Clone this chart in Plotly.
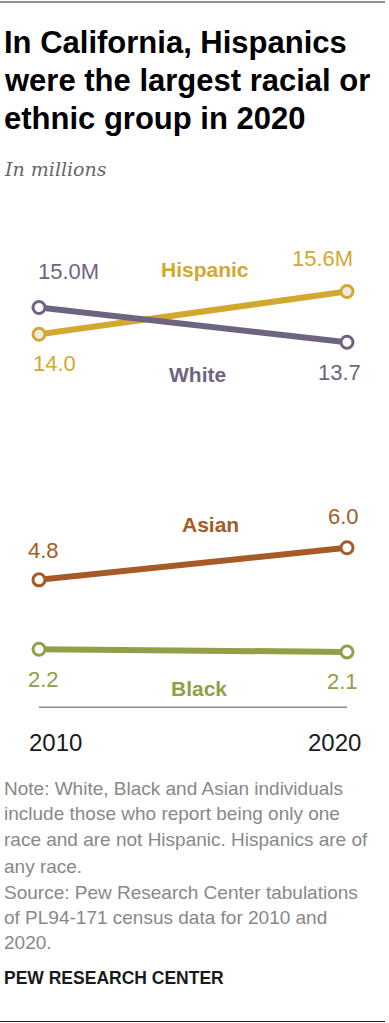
import plotly.graph_objects as go

# ---- data ----
years = [2010, 2020]
hispanic = [14.0, 15.6]
white = [15.0, 13.7]
asian = [4.8, 6.0]
black = [2.2, 2.1]

hispanic_labels = ["14.0", "15.6M"]
white_labels = ["15.0M", "13.7"]
asian_labels = ["4.8", "6.0"]
black_labels = ["2.2", "2.1"]
year_labels = ["2010", "2020"]

title_lines = ["In California, Hispanics", "were the largest racial or", "ethnic group in 2020"]
subtitle = "In millions"
note_lines = [
    "Note: White, Black and Asian individuals",
    "include those who report being only one",
    "race and are not Hispanic. Hispanics are of",
    "any race.",
    "Source: Pew Research Center tabulations",
    "of PL94-171 census data for 2010 and",
    "2020.",
]
credit = "PEW RESEARCH CENTER"

C_HISP = "#D3A82F"
C_WHITE = "#6F6480"
C_ASIAN = "#A65B27"
C_BLACK = "#949D47"

W, H = 389, 1023
ML, MR, MT, MB = 39, 42, 268, 315
PW = W - ML - MR
PH = H - MT - MB
YMAX = PH / 26.7


def px(x):
    return (x - ML) / PW


def py(y):
    return (H - MB - y) / PH


fig = go.Figure()

series = [
    ("Hispanic", hispanic, C_HISP, "#EEEBE3"),
    ("White", white, C_WHITE, "#FFFFFF"),
    ("Asian", asian, C_ASIAN, "#FFFFFF"),
    ("Black", black, C_BLACK, "#FFFFFF"),
]
for name, vals, col, fill in series:
    fig.add_trace(go.Scatter(
        x=years, y=vals, mode="lines+markers", name=name,
        line=dict(color=col, width=6),
        marker=dict(size=12, color=fill, line=dict(color=col, width=3)),
        cliponaxis=False, hoverinfo="skip",
    ))

ann = []
FONT = "Liberation Sans, Arial, sans-serif"

# value labels anchored to data points
def vlabel(xv, yv, text, col, dx, dy):
    ann.append(dict(x=xv, y=yv, xref="x", yref="y", text=text, showarrow=False,
                    xanchor="center", yanchor="middle", xshift=dx, yshift=dy,
                    font=dict(family=FONT, size=22, color=col)))

vlabel(years[0], white[0], white_labels[0], C_WHITE, 29, 36)
vlabel(years[1], white[1], white_labels[1], C_WHITE, -8, -30)
vlabel(years[0], hispanic[0], hispanic_labels[0], C_HISP, 15, -29)
vlabel(years[1], hispanic[1], hispanic_labels[1], C_HISP, -25, 33)
vlabel(years[0], asian[0], asian_labels[0], C_ASIAN, 4, 29)
vlabel(years[1], asian[1], asian_labels[1], C_ASIAN, -4, 31)
vlabel(years[0], black[0], black_labels[0], C_BLACK, 4, -30)
vlabel(years[1], black[1], black_labels[1], C_BLACK, -5, -30)

# series name labels
def nlabel(x, y, text, col):
    ann.append(dict(x=px(x), y=py(y), xref="paper", yref="paper", text="<b>%s</b>" % text,
                    showarrow=False, xanchor="center", yanchor="middle",
                    font=dict(family=FONT, size=21, color=col)))

nlabel(205, 269, "Hispanic", C_HISP)
nlabel(197, 374, "White", C_WHITE)
nlabel(210, 524, "Asian", C_ASIAN)
nlabel(199, 688, "Black", C_BLACK)

# year labels
ann.append(dict(x=years[0], y=0, xref="x", yref="y", text=year_labels[0], showarrow=False,
                xanchor="left", yanchor="middle", xshift=-12, yshift=-34,
                font=dict(family=FONT, size=24, color="#1a1a1a")))
ann.append(dict(x=years[1], y=0, xref="x", yref="y", text=year_labels[1], showarrow=False,
                xanchor="right", yanchor="middle", xshift=16, yshift=-34,
                font=dict(family=FONT, size=24, color="#1a1a1a")))

# title
for i, line in enumerate(title_lines):
    ann.append(dict(x=px(2), y=py(43 + i * 37.5), xref="paper", yref="paper",
                    text="<b>%s</b>" % line, showarrow=False, xanchor="left", yanchor="middle",
                    font=dict(family=FONT, size=31, color="#000000")))

ann.append(dict(x=px(2), y=py(169), xref="paper", yref="paper", text="<i>%s</i>" % subtitle,
                showarrow=False, xanchor="left", yanchor="middle",
                font=dict(family="DejaVu Serif, serif", size=19, color="#666666")))

note_y = [788, 813, 839, 866, 892, 917, 942]
for ny, line in zip(note_y, note_lines):
    ann.append(dict(x=px(2), y=py(ny), xref="paper", yref="paper", text=line,
                    showarrow=False, xanchor="left", yanchor="middle",
                    font=dict(family=FONT, size=19, color="#888888")))

ann.append(dict(x=px(2), y=py(978), xref="paper", yref="paper", text="<b>%s</b>" % credit,
                showarrow=False, xanchor="left", yanchor="middle",
                font=dict(family=FONT, size=17.5, color="#1a1a1a")))

shapes = [
    dict(type="line", xref="paper", yref="paper", x0=px(0), x1=px(385), y0=py(2), y1=py(2),
         line=dict(color="#222222", width=1.2)),
    dict(type="line", xref="paper", yref="paper", x0=px(0), x1=px(385), y0=py(1021.5), y1=py(1021.5),
         line=dict(color="#222222", width=1.2)),
    dict(type="line", xref="x", yref="y", x0=years[0], x1=years[1], y0=0, y1=0,
         line=dict(color="#888888", width=3), layer="below"),
]

fig.update_layout(
    width=W, height=H,
    margin=dict(l=ML, r=MR, t=MT, b=MB, pad=0),
    paper_bgcolor="white", plot_bgcolor="white",
    showlegend=False,
    xaxis=dict(range=[2010, 2020], visible=False, fixedrange=True),
    yaxis=dict(range=[0, YMAX], visible=False, fixedrange=True),
    annotations=ann, shapes=shapes,
)

fig.write_html("out.html", config={"displayModeBar": False},
               post_script="document.body.style.margin='0';document.body.style.padding='0';document.documentElement.style.overflow='hidden';")
